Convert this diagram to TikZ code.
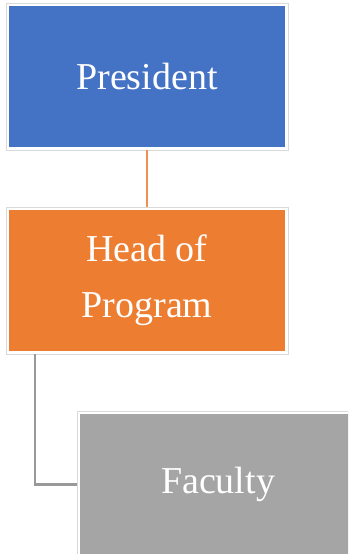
\documentclass[tikz,border=0pt]{standalone}
\usepackage{fontspec}
\setmainfont{Liberation Serif}
\usepackage{tikz}

\definecolor{presblue}{HTML}{4472C4}
\definecolor{headorange}{HTML}{ED7D31}
\definecolor{facgray}{HTML}{A5A5A5}

\begin{document}
\begin{tikzpicture}[x=1pt, y=1pt,
    position/.style ={rectangle, draw=white, line width=3pt, text=white,
      minimum width=279pt, minimum height=144pt, inner sep=0pt, align=center,
      font=\fontsize{38}{56}\selectfont},
    frame/.style ={draw=black!15, line width=0.8pt}]
   \clip (0,0) rectangle (348,554);
   \fill[white] (0,0) rectangle (348,554);

   \node[position, fill=presblue]   (pres) at (147,477.5) {President};
   \node[position, fill=headorange] (head) at (147,273.5) {Head of\\Program};
   \node[position, fill=facgray]    (fac)  at (218,69.5)  {Faculty};

   \draw[frame] (pres.south west) rectangle (pres.north east);
   \draw[frame] (head.south west) rectangle (head.north east);
   \draw[frame] (fac.south west) rectangle (fac.north east);

   \draw[headorange!85, line width=1.6pt] (pres) to (head);
   \draw[black!40, line width=2.2pt] ([xshift=-111.7pt]head.south) |- (fac.west);

 \end{tikzpicture}
\end{document}
